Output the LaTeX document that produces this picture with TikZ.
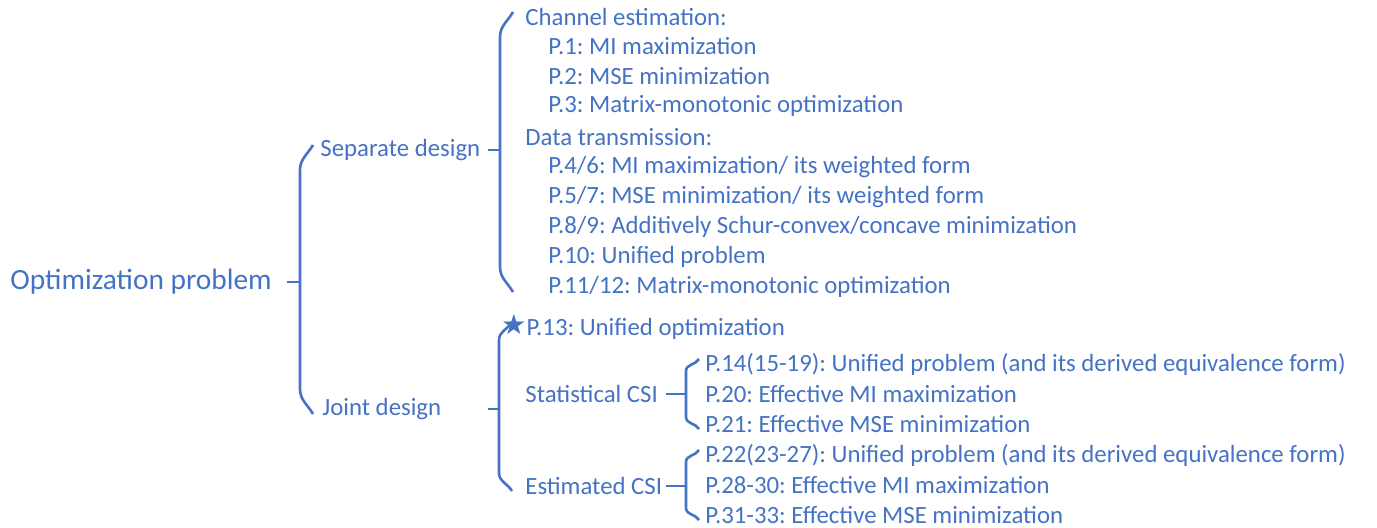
\documentclass[tikz,border=0pt]{standalone}
\usepackage{fontspec}
\setmainfont{Carlito}
\newfontfamily\symfont{DejaVu Sans}
\usetikzlibrary{calc}
\definecolor{office}{HTML}{4472C4}
\tikzstyle{leaf}=[anchor=west, inner sep=0pt, text=office, font=\fontsize{12.4}{14}\selectfont\frenchspacing]
\tikzstyle{root}=[leaf, font=\fontsize{14.7}{17}\selectfont]
\tikzstyle{link}=[draw=office, line width=1.3pt]
% parent / spine / top child / bottom child / curl height / tick length
\newcommand\curly[6]{%
  \draw[link] ($(#2 |- #1.west)+(-#6,0)$) -- (#2 |- #1.west);
  \draw[link] ($(#2 |- #3.west)+(13,-5)$) to[out=240,in=90] ($(#2 |- #3.west)+(0,#5-5)$)
    -- ($(#2 |- #4.west)+(0,5-#5)$) to[out=-90,in=120] ($(#2 |- #4.west)+(13,5)$);
}
\def\seplist{{(525,17)/ce/{Channel estimation:}}, {(548,46)/p1/{P.1: MI maximization}},
  {(548,76)/p2/{P.2: MSE minimization}}, {(548,106)/p3/{P.3: Matrix-monotonic optimization}},
  {(525,137)/dt/{Data transmission:}}, {(548,167)/p4/{P.4/6: MI maximization/ its weighted form}},
  {(548,197)/p5/{P.5/7: MSE minimization/ its weighted form}},
  {(548,227)/p8/{P.8/9: Additively Schur-convex/concave minimization}},
  {(548,257)/p10/{P.10: Unified problem}}, {(548,287)/p11/{P.11/12: Matrix-monotonic optimization}}}
\def\jointlist{{(525,394)/stat/{Statistical CSI}}, {(525,486)/est/{Estimated CSI}},
  {(705,364)/p14/{P.14(15-19): Unified problem (and its derived equivalence form)}},
  {(705,394)/p20/{P.20: Effective MI maximization}}, {(705,424)/p21/{P.21: Effective MSE minimization}},
  {(705,455)/p22/{P.22(23-27): Unified problem (and its derived equivalence form)}},
  {(705,485)/p28/{P.28-30: Effective MI maximization}}, {(705,515)/p31/{P.31-33: Effective MSE minimization}}}

\begin{document}
\begin{tikzpicture}[x=0.5pt, y=-0.5pt]
  \useasboundingbox (0,0) rectangle (1377,527);

  \node[root] (opt) at (10,282) {Optimization problem};
  \node[leaf] (sep) at (320,150) {Separate design};
  \node[leaf] (joint) at (322,409) {Joint design};
  \node[leaf] (p13) at (501,327) {{\symfont\fontsize{14}{15}\selectfont\raisebox{0.8pt}{★}}P.13: Unified optimization};

  \foreach \pos/\name/\txt in \seplist {
    \node[leaf] (\name) at \pos {\txt};
  }
  \foreach \pos/\name/\txt in \jointlist {
    \node[leaf] (\name) at \pos {\txt};
  }

  \coordinate (s1) at (300,0);
  \coordinate (s2) at (500,0);
  \coordinate (s3) at (499,0);
  \coordinate (s4) at (686,0);

  \curly{opt}{s1}{sep}{joint}{25}{13}
  \curly{sep}{s2}{ce}{p11}{25}{12}
  \curly{joint}{s3}{p13}{est}{18}{11}
  \curly{stat}{s4}{p14}{p21}{12}{20}
  \curly{est}{s4}{p22}{p31}{12}{20}
\end{tikzpicture}
\end{document}
